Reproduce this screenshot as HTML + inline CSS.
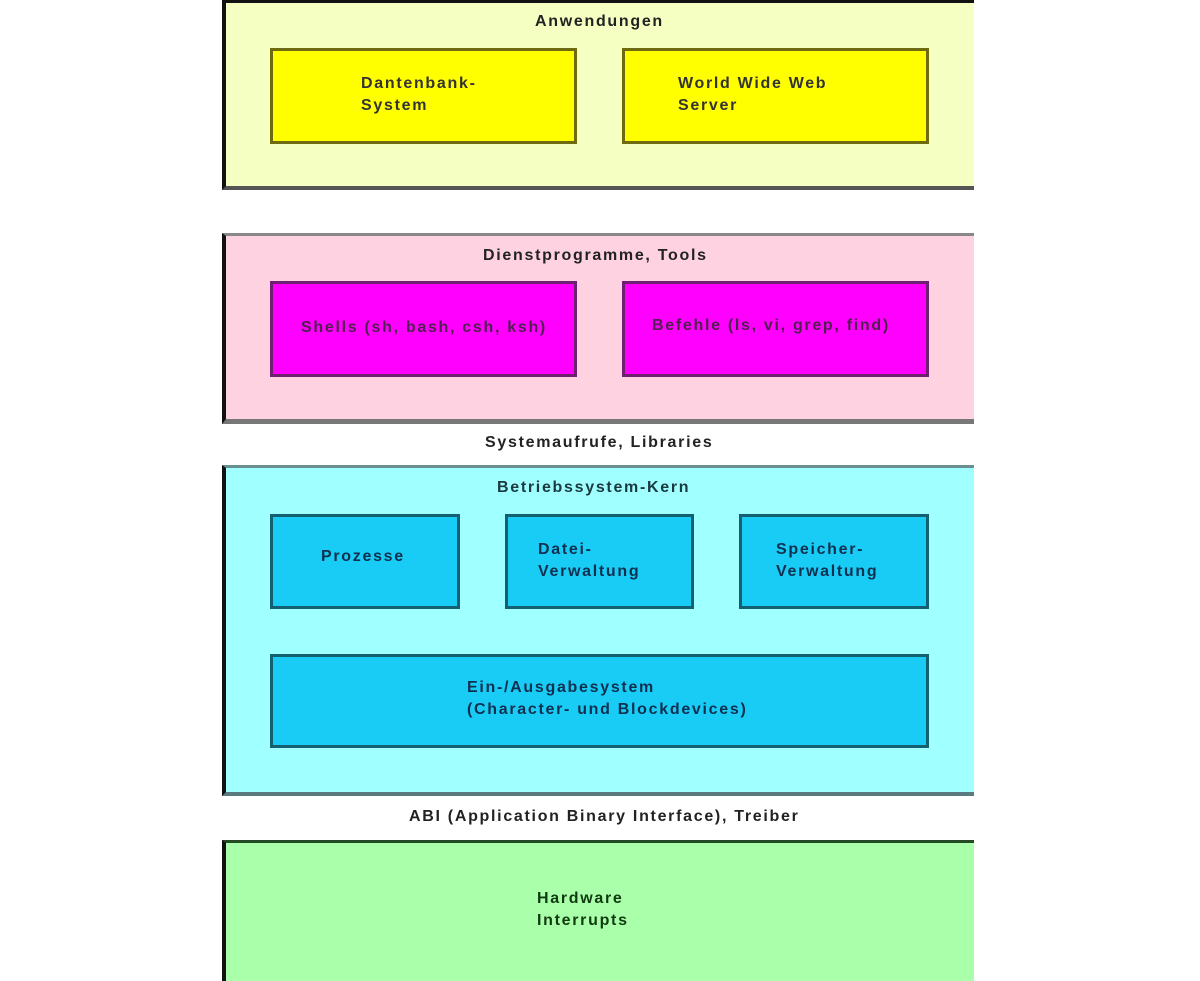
<!DOCTYPE html>
<html><head><meta charset="utf-8"><style>
body{margin:0;width:1200px;height:981px;background:#fff;position:relative;overflow:hidden;font-family:"Liberation Sans",sans-serif;font-weight:bold;font-size:16px;letter-spacing:1.7px;color:#222}
.a{position:absolute;box-sizing:border-box}
.t{position:absolute;white-space:nowrap;line-height:22px}
</style></head><body>
<div class="a" style="left:222px;top:0;width:752px;height:190px;background:#f5ffc2;border-left:4px solid #111;border-top:3px solid #111;border-bottom:4px solid #555"></div>
<div class="t" style="left:535px;top:11px">Anwendungen</div>
<div class="a" style="left:270px;top:48px;width:307px;height:96px;background:#ffff00;border:3px solid #6e6a10"></div>
<div class="t" style="left:361px;top:73px;color:#333">Dantenbank-<br>System</div>
<div class="a" style="left:622px;top:48px;width:307px;height:96px;background:#ffff00;border:3px solid #6e6a10"></div>
<div class="t" style="left:678px;top:73px;color:#333">World Wide Web<br>Server</div>

<div class="a" style="left:222px;top:233px;width:752px;height:191px;background:#ffd2e2;border-left:4px solid #111;border-top:3px solid #888;border-bottom:5px solid #777"></div>
<div class="t" style="left:483px;top:245px">Dienstprogramme, Tools</div>
<div class="a" style="left:270px;top:281px;width:307px;height:96px;background:#ff00ff;border:3px solid #702070"></div>
<div class="t" style="left:301px;top:317px;color:#502050">Shells (sh, bash, csh, ksh)</div>
<div class="a" style="left:622px;top:281px;width:307px;height:96px;background:#ff00ff;border:3px solid #702070"></div>
<div class="t" style="left:652px;top:315px;color:#502050">Befehle (ls, vi, grep, find)</div>

<div class="t" style="left:485px;top:432px">Systemaufrufe, Libraries</div>

<div class="a" style="left:222px;top:465px;width:752px;height:331px;background:#a0ffff;border-left:4px solid #111;border-top:3px solid #6a9090;border-bottom:4px solid #5a7a80"></div>
<div class="t" style="left:497px;top:477px;color:#1a3a40">Betriebssystem-Kern</div>
<div class="a" style="left:270px;top:514px;width:190px;height:95px;background:#18ccf5;border:3px solid #156070"></div>
<div class="t" style="left:321px;top:546px;color:#103050">Prozesse</div>
<div class="a" style="left:505px;top:514px;width:189px;height:95px;background:#18ccf5;border:3px solid #156070"></div>
<div class="t" style="left:538px;top:539px;color:#103050">Datei-<br>Verwaltung</div>
<div class="a" style="left:739px;top:514px;width:190px;height:95px;background:#18ccf5;border:3px solid #156070"></div>
<div class="t" style="left:776px;top:539px;color:#103050">Speicher-<br>Verwaltung</div>
<div class="a" style="left:270px;top:654px;width:659px;height:94px;background:#18ccf5;border:3px solid #156070"></div>
<div class="t" style="left:467px;top:677px;color:#103050">Ein-/Ausgabesystem<br>(Character- und Blockdevices)</div>

<div class="t" style="left:409px;top:806px">ABI (Application Binary Interface), Treiber</div>

<div class="a" style="left:222px;top:840px;width:752px;height:141px;background:#aaffaa;border-left:4px solid #111;border-top:3px solid #244a24"></div>
<div class="t" style="left:537px;top:888px;color:#0f3a0f">Hardware<br>Interrupts</div>
</body></html>
